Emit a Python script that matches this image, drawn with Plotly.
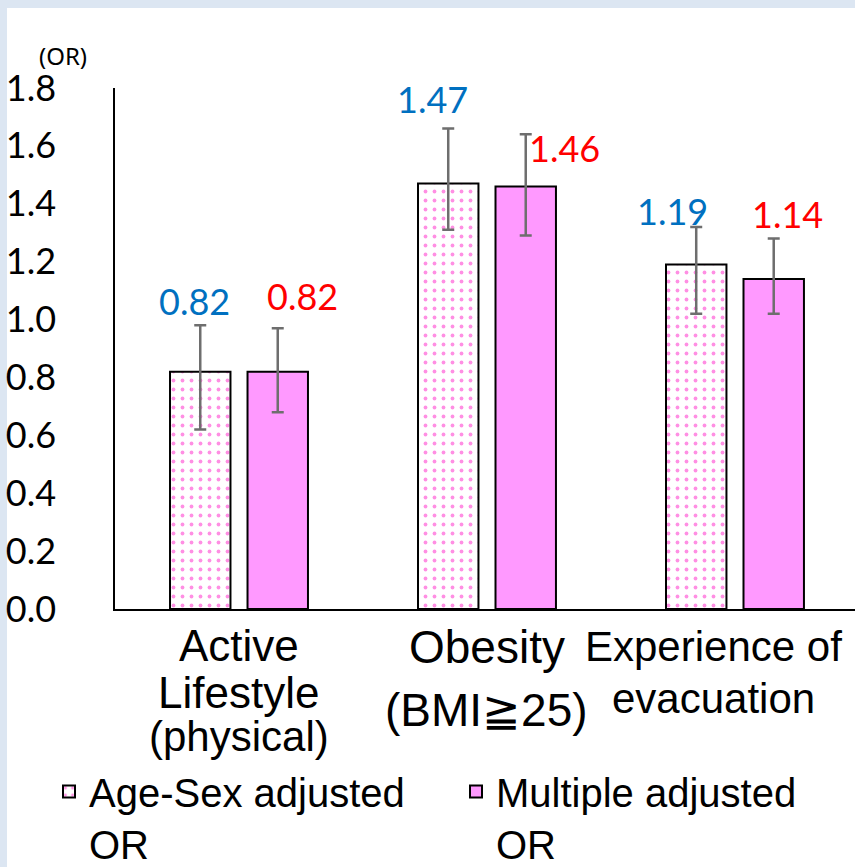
import plotly.graph_objects as go

# ---- data -------------------------------------------------------------
categories = ["Active Lifestyle (physical)", "Obesity (BMI≧25)", "Experience of evacuation"]
category_lines = [["Active", "Lifestyle", "(physical)"],
                  ["Obesity", "(BMI≧25)"],
                  ["Experience of", "evacuation"]]

series_names = ["Age-Sex adjusted<br>OR", "Multiple adjusted<br>OR"]

age_sex_or = [0.82, 1.47, 1.19]
age_sex_lower = [0.62, 1.31, 1.02]
age_sex_upper = [0.98, 1.66, 1.32]

multiple_or = [0.82, 1.46, 1.14]
multiple_lower = [0.68, 1.29, 1.02]
multiple_upper = [0.97, 1.64, 1.28]

y_ticks = [0.0, 0.2, 0.4, 0.6, 0.8, 1.0, 1.2, 1.4, 1.6, 1.8]

# ---- style -------------------------------------------------------------
NUM_FONT = "Lato, Carlito, Calibri, sans-serif"
TXT_FONT = "Liberation Sans, Arial, sans-serif"
BLUE = "#0070C0"
RED = "#FF0000"
PINK = "#FF99FF"
DOT = "#FF1FC8"
ERR = "#6E6E6E"
BARGAP = 0.375
BARGROUPGAP = 0.22

W, H = 855, 867
ML, MR, MT, MB = 115, 0, 88, 258
plot_w = W - ML - MR
plot_h = H - MT - MB


def px_x(px):
    return (px - ML) / plot_w


def px_y(py):
    return (H - MB - py) / plot_h


fig = go.Figure()

fig.add_trace(go.Bar(
    name=series_names[0],
    x=categories,
    y=age_sex_or,
    marker=dict(
        color="white",
        line=dict(color="black", width=2),
        pattern=dict(shape=".", fgcolor=DOT, bgcolor="white",
                     size=9, solidity=0.14, fillmode="overlay"),
    ),
    error_y=dict(
        type="data", symmetric=False,
        array=[u - v for u, v in zip(age_sex_upper, age_sex_or)],
        arrayminus=[v - l for v, l in zip(age_sex_or, age_sex_lower)],
        color=ERR, thickness=2.5, width=6,
    ),
))

fig.add_trace(go.Bar(
    name=series_names[1],
    x=categories,
    y=multiple_or,
    marker=dict(color=PINK, line=dict(color="black", width=2)),
    error_y=dict(
        type="data", symmetric=False,
        array=[u - v for u, v in zip(multiple_upper, multiple_or)],
        arrayminus=[v - l for v, l in zip(multiple_or, multiple_lower)],
        color=ERR, thickness=2.5, width=6,
    ),
))

annotations = []

# value labels above each bar (pixel nudges: dx, dy relative to the upper CI)
bar_off = (1 - BARGAP) / 4
label_nudge = [
    [(-6, 24), (-15.5, 30), (-23.5, 15.5)],
    [(25, 32), (38.5, -14), (14, 24.5)],
]
series_vals = [(age_sex_or, age_sex_upper, BLUE), (multiple_or, multiple_upper, RED)]
for s, (vals, ups, col) in enumerate(series_vals):
    sign = -1 if s == 0 else 1
    for i, (v, u) in enumerate(zip(vals, ups)):
        dx, dy = label_nudge[s][i]
        annotations.append(dict(
            x=i + sign * bar_off, xref="x", y=u, yref="y",
            text=f"{v:.2f}", showarrow=False,
            xanchor="center", yanchor="middle",
            xshift=dx, yshift=dy,
            font=dict(family=NUM_FONT, size=36, color=col),
        ))

# category labels under the axis: (font size, distance below axis in px) per line
line_style = [[(44, 36.5), (44, 83), (42, 127)],
              [(46, 37.5), (46, 101)],
              [(42, 37.4), (42, 89.4)]]
group_shift = [0, 0, -21]
for i, lines in enumerate(category_lines):
    for text, (fs, d) in zip(lines, line_style[i]):
        annotations.append(dict(
            x=i, xref="x", y=0, yref="paper",
            text=text, showarrow=False,
            xanchor="center", yanchor="middle",
            xshift=group_shift[i], yshift=-d,
            font=dict(family=TXT_FONT, size=fs, color="black"),
        ))

# unit label above the value axis
annotations.append(dict(
    x=px_x(63), xref="paper", y=px_y(55), yref="paper",
    text="(OR)", showarrow=False, xanchor="center", yanchor="middle",
    font=dict(family="Noto Sans, sans-serif", size=24, color="black"),
))

fig.update_layout(
    width=W, height=H,
    margin=dict(l=ML, r=MR, t=MT, b=MB, pad=0, autoexpand=False),
    paper_bgcolor="#DCE6F2",
    plot_bgcolor="white",
    barmode="group",
    bargap=BARGAP,
    bargroupgap=BARGROUPGAP,
    showlegend=True,
    legend=dict(
        orientation="h",
        x=px_x(49), xanchor="left",
        y=px_y(759), yanchor="top",
        font=dict(family=TXT_FONT, size=40, color="black"),
        valign="top",
        entrywidth=362,
        bgcolor="rgba(0,0,0,0)",
        traceorder="normal",
    ),
    xaxis=dict(
        range=[-0.5, 2.484],
        showline=True, linecolor="black", linewidth=1.5,
        showticklabels=False, ticks="", showgrid=False, zeroline=False,
        fixedrange=True,
    ),
    yaxis=dict(
        range=[0, 1.8],
        tickvals=y_ticks, tickformat=".1f",
        showline=True, linecolor="black", linewidth=1.5,
        ticks="", showgrid=False, zeroline=False,
        tickfont=dict(family=NUM_FONT, size=36, color="black"),
        ticklabelstandoff=50,
        automargin=False,
    ),
    annotations=annotations,
    shapes=[dict(
        type="rect", xref="paper", yref="paper", layer="below",
        x0=px_x(7), x1=px_x(W + 10), y0=px_y(H + 10), y1=px_y(8),
        fillcolor="white", line=dict(width=0),
    )],
)

fig.write_html("out.html")
